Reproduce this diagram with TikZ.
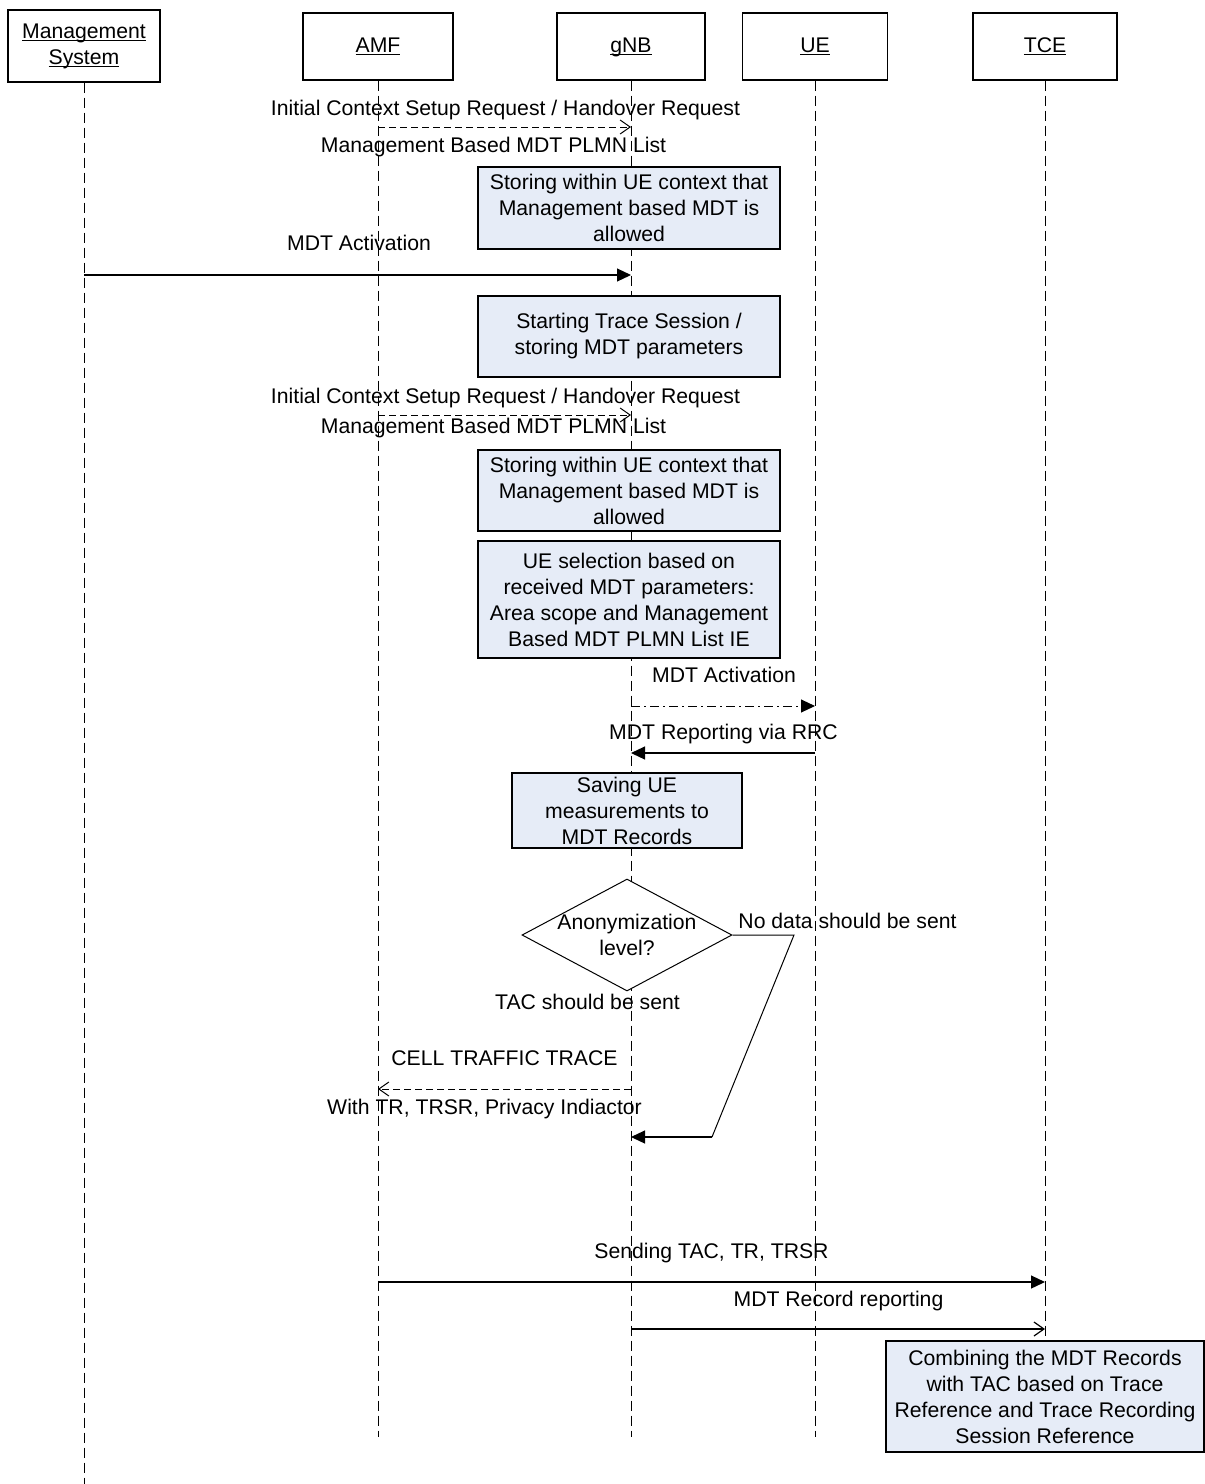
\documentclass[tikz,border=0pt]{standalone}
\usepackage{fontspec}
\setmainfont{Liberation Sans}
\usepackage{xcolor}
\usetikzlibrary{shapes.geometric, arrows.meta}
\definecolor{boxfill}{RGB}{230,236,247}
\newcommand{\undl}[1]{\leavevmode\setbox0\hbox{#1}\rlap{\vrule width \wd0 height -2pt depth 3.3pt}\box0}

\begin{document}
\begin{tikzpicture}[x=1pt, y=-1pt, font=\fontsize{21.2}{26}\selectfont,
    actor/.style={draw, fill=white, line width=1.2pt, minimum width=150pt, minimum height=67pt, align=center},
    lifeline/.style={line width=1pt, dash pattern=on 10pt off 5pt},
    action/.style={draw, fill=boxfill, line width=1.2pt, align=center, inner sep=2pt},
    decision/.style={diamond, draw, fill=white, line width=1pt, minimum width=210pt, minimum height=112pt, inner sep=0pt},
    lbl/.style={inner sep=0pt, text height=15pt, text depth=4pt},
    sync/.style={line width=1.2pt, -{Triangle[length=14pt, width=13pt]}},
    async/.style={line width=1pt, dash pattern=on 7pt off 4pt, -{Straight Barb[length=10pt, width=14pt]}},
    reply/.style={line width=1.2pt, -{Straight Barb[length=10pt, width=14pt]}},
    dashdot/.style={line width=1pt, dash pattern=on 9pt off 4pt on 2pt off 4pt, -{Triangle[length=14pt, width=13pt]}}]
    \useasboundingbox (0,0) rectangle (1205,1484);

    \node[actor, minimum width=152pt, minimum height=72pt] (ms) at (84,46) {\undl{Management}\\\undl{System}};
    \node[actor, text height=15pt, text depth=4pt] (amf) at (378,46.5) {\undl{AMF}};
    \node[actor, minimum width=148pt, text height=15pt, text depth=4pt] (gnb) at (631,46.5) {\undl{gNB}};
    \node[actor, minimum width=145pt, text height=15pt, text depth=4pt] (ue) at (815,46.5) {\undl{UE}};
    \node[actor, minimum width=144pt, text height=15pt, text depth=4pt] (tce) at (1045,46.5) {\undl{TCE}};

    \coordinate (bottom) at (0,1437);
    \coordinate (msbottom) at (0,1484);
    \draw[lifeline] (ms) -- (ms |- msbottom);
    \draw[lifeline] (amf) -- (amf |- bottom);
    \draw[lifeline] (gnb) -- (gnb |- bottom);
    \draw[lifeline] (ue) -- (ue |- bottom);
    \draw[lifeline] (tce) -- (tce |- bottom);

    \coordinate (m1) at (0,127);
    \node[lbl] (ctx1) at (505.5,110) {Initial Context Setup Request / Handover Request};
    \draw[async] (amf |- m1) -- (gnb |- m1);
    \node[lbl] (plmn1) at (493.5,147) {Management Based MDT PLMN List};
    \node[action, minimum width=302pt, minimum height=82pt] (store1) at (629,208) {Storing within UE context that\\Management based MDT is\\allowed};

    \coordinate (m2) at (0,275);
    \node[lbl] (act1) at (359,245) {MDT Activation};
    \draw[sync] (ms |- m2) -- (gnb |- m2);
    \node[action, minimum width=302pt, minimum height=81pt] (start) at (629,336.5) {Starting Trace Session /\\storing MDT parameters};

    \coordinate (m3) at (0,415);
    \node[lbl] (ctx2) at (505.5,398) {Initial Context Setup Request / Handover Request};
    \draw[async] (amf |- m3) -- (gnb |- m3);
    \node[lbl] (plmn2) at (493.5,428) {Management Based MDT PLMN List};
    \node[action, minimum width=302pt, minimum height=81pt] (store2) at (629,490.5) {Storing within UE context that\\Management based MDT is\\allowed};
    \node[action, minimum width=302pt, minimum height=117pt] (select) at (629,599.5) {UE selection based on\\received MDT parameters:\\Area scope and Management\\Based MDT PLMN List IE};

    \coordinate (m4) at (0,706);
    \node[lbl] (act2) at (724,677) {MDT Activation};
    \draw[dashdot] (gnb |- m4) -- (ue |- m4);
    \coordinate (m5) at (0,753);
    \node[lbl] (rrc) at (723.5,734) {MDT Reporting via RRC};
    \draw[sync] (ue |- m5) -- (gnb |- m5);
    \node[action, minimum width=230pt, minimum height=75pt] (save) at (627,810.5) {Saving UE\\measurements to\\MDT Records};

    \node[decision] (anon) at (627,935) {};
    \node[align=center, inner sep=0pt] (anontext) at (anon) {Anonymization\\level?};
    \node[lbl] (nodata) at (847.5,923) {No data should be sent};
    \node[lbl] (tac) at (587.5,1004) {TAC should be sent};
    \coordinate (nd1) at (794,935);
    \coordinate (nd2) at (712,1137);
    \coordinate (m6) at (0,1137);
    \draw[line width=1pt] (anon.east) -- (nd1) -- (nd2);
    \draw[sync] (nd2) -- (gnb |- m6);

    \coordinate (m7) at (0,1089);
    \node[lbl] (ctt) at (504.5,1060) {CELL TRAFFIC TRACE};
    \draw[async] (gnb |- m7) -- (amf |- m7);
    \node[lbl] (with) at (484.5,1109) {With TR, TRSR, Privacy Indiactor};

    \coordinate (m8) at (0,1282);
    \node[lbl] (send) at (711.5,1253) {Sending TAC, TR, TRSR};
    \draw[sync] (amf |- m8) -- (tce |- m8);
    \coordinate (m9) at (0,1329);
    \node[lbl] (record) at (838.5,1301) {MDT Record reporting};
    \draw[reply] (gnb |- m9) -- (tce |- m9);
    \node[action, minimum width=318pt, minimum height=111pt] (combine) at (1045,1396.5) {Combining the MDT Records\\with TAC based on Trace\\Reference and Trace Recording\\Session Reference};

\end{tikzpicture}
\end{document}
